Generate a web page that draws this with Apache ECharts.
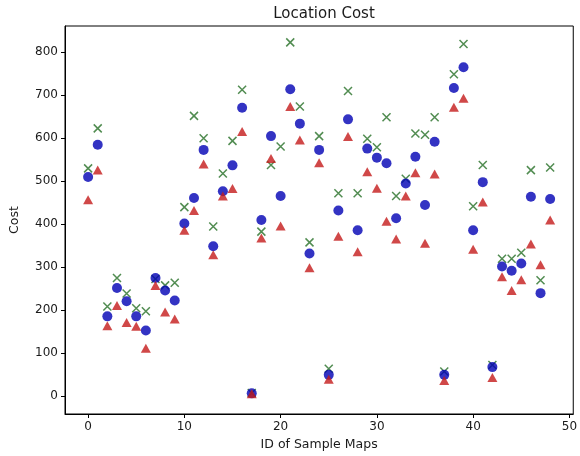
<!DOCTYPE html>
<html>
<head>
<meta charset="utf-8">
<script src="https://cdn.jsdelivr.net/npm/echarts@6/dist/echarts.min.js"></script>
<style>
html,body{margin:0;padding:0;background:#fff;}
#chart{width:580px;height:456px;}
</style>
</head>
<body>
<div id="chart"></div>
<script>
// Sample map IDs
const ids = [0,1,2,3,4,5,6,7,8,9,10,11,12,13,14,15,16,17,18,19,20,21,22,23,24,25,26,27,28,29,30,31,32,33,34,35,36,37,38,39,40,41,42,43,44,45,46,47,48];
// Green "x" series
const greenCost = [529,622,208,274,238,204,197,272,257,263,439,651,599,394,517,593,712,7,382,537,580,822,673,357,604,63,471,709,471,598,578,648,465,505,610,607,648,57,748,818,441,537,72,319,319,333,525,269,531];
// Blue circle series
const blueCost = [509,584,185,251,220,185,152,274,245,222,401,460,572,348,476,536,670,6,409,604,465,713,633,331,572,49,431,643,385,575,554,541,413,494,556,444,591,49,716,764,385,497,67,301,291,308,463,239,458];
// Red triangle series
const redCost = [456,525,163,210,171,162,111,257,195,179,385,431,539,328,465,482,615,5,367,552,395,673,595,298,542,39,371,603,335,521,483,406,365,465,519,355,516,36,671,692,341,451,43,277,245,270,353,305,409];
// Tick labels
const xTicks = [0,10,20,30,40,50];
const yTicks = [0,100,200,300,400,500,600,700,800];

const pairs = arr => ids.map((id,i)=>[id, arr[i]]);
const font = 'DejaVu Sans';
const txt = '#1a1a1a';

const chart = echarts.init(document.getElementById('chart'), null, {renderer:'canvas'});
chart.setOption({
  animation:false,
  backgroundColor:'#fff',
  title:{
    text:'Location Cost', left:319, top:2, textAlign:'center',
    textStyle:{fontFamily:font, fontSize:15, fontWeight:'normal', color:txt}
  },
  grid:{left:60, right:3, top:26, bottom:41, show:true, borderColor:'#000', borderWidth:1, backgroundColor:'transparent'},
  xAxis:{
    type:'value', min:-2.4, max:50.4,
    name:'ID of Sample Maps', nameLocation:'middle', nameGap:24,
    nameTextStyle:{fontFamily:font, fontSize:12.5, color:txt},
    axisLine:{show:true, onZero:false, lineStyle:{color:'#000', width:1}},
    axisTick:{show:true, length:4, lineStyle:{color:'#000'}, customValues:xTicks},
    axisLabel:{fontFamily:font, fontSize:12, color:txt, margin:7, customValues:xTicks},
    splitLine:{show:false}
  },
  yAxis:{
    type:'value', min:-42, max:860,
    name:'Cost', nameLocation:'middle', nameGap:44, nameRotate:90,
    nameTextStyle:{fontFamily:font, fontSize:12.5, color:txt},
    axisLine:{show:true, onZero:false, lineStyle:{color:'#000', width:1}},
    axisTick:{show:true, length:4, lineStyle:{color:'#000'}, customValues:yTicks},
    axisLabel:{fontFamily:font, fontSize:12, color:txt, margin:7, customValues:yTicks},
    splitLine:{show:false}
  },
  series:[
    {type:'scatter', name:'green', data:pairs(greenCost),
     symbol:'path://M0,0L10,10M10,0L0,10', symbolSize:8,
     itemStyle:{color:'rgba(0,0,0,0)', borderColor:'#256f25', borderWidth:1.5}},
    {type:'scatter', name:'blue', data:pairs(blueCost),
     symbol:'circle', symbolSize:10,
     itemStyle:{color:'#0000b4'}},
    {type:'scatter', name:'red', data:pairs(redCost),
     symbol:'triangle', symbolSize:[10,9],
     itemStyle:{color:'#c41a1a'}}
  ]
});
</script>
</body>
</html>
